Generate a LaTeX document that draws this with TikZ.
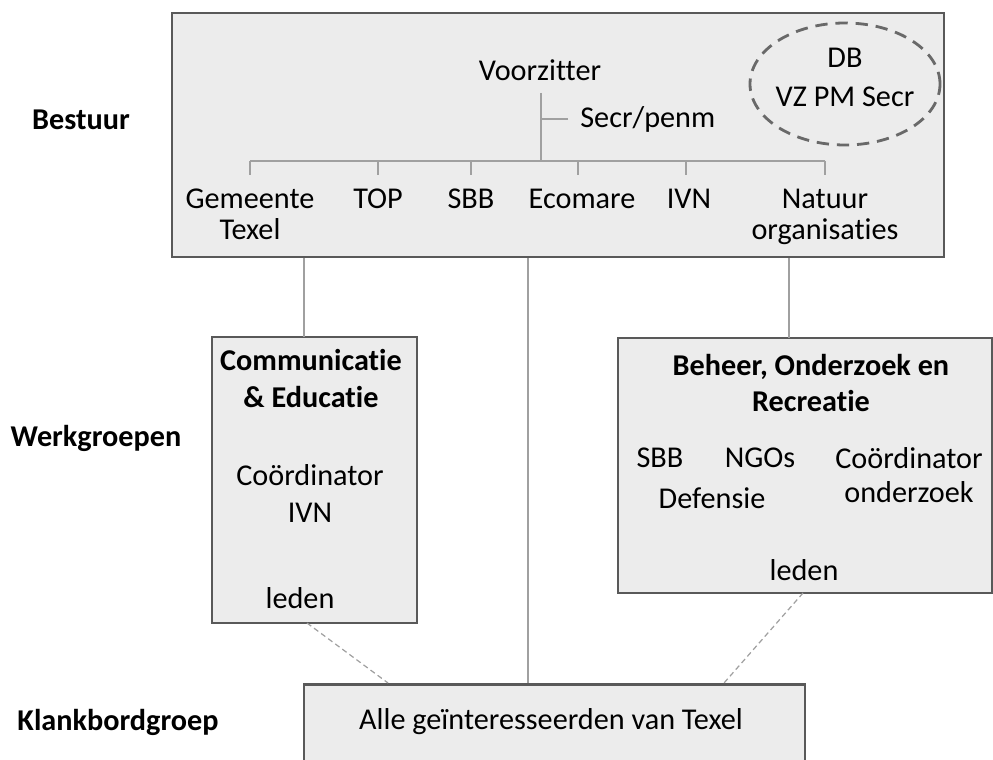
\documentclass[tikz,border=0pt]{standalone}
\usepackage{fontspec}
\setmainfont[RawFeature={-liga}]{Carlito}
\usetikzlibrary{shapes.geometric}
\definecolor{boxfill}{RGB}{236,236,236}
\definecolor{boxline}{RGB}{89,89,89}
\definecolor{linkline}{RGB}{160,160,160}
\definecolor{ovalline}{RGB}{105,105,105}
\begin{document}
\begin{tikzpicture}[
	box/.style={draw=boxline, line width=1.6pt, fill=boxfill, inner sep=0pt},
	txt/.style={font=\fontsize{17.2}{17.5}\selectfont, align=center, inner sep=0pt},
	kop/.style={font=\fontsize{17.2}{21}\selectfont\bfseries, align=center, inner sep=0pt},
	lijn/.style={draw=linkline, line width=0.8pt},
	stippel/.style={draw=linkline, line width=0.7pt, dash pattern=on 3pt off 2pt}]
	\useasboundingbox (0, 0) rectangle (19.86, 15.18);
	% bestuur
	\node[box, minimum width=15.44cm, minimum height=4.88cm] at (11.16, 12.48) (bestuur) {};
	\node[txt] at (10.8, 13.78) (vz) {Voorzitter};
	\coordinate (vzonder) at (10.82, 13.32);
	\coordinate (tak) at (10.82, 11.96);
	\draw[lijn] (vzonder) -- (tak);
	\node[txt, anchor=west] at (11.6, 12.8) (secr) {Secr/penm};
	\draw[lijn] ([xshift=-0.24cm]secr.west) -- (vzonder |- secr.west);
	\node[txt, anchor=north] at (5.0, 11.4) (gem) {Gemeente\\Texel};
	\node[txt, anchor=north] at (7.56, 11.4) (top) {TOP};
	\node[txt, anchor=north] at (9.42, 11.4) (sbb) {SBB};
	\node[txt, anchor=north] at (11.64, 11.4) (eco) {Ecomare};
	\node[txt, anchor=north] at (13.78, 11.4) (ivn) {IVN};
	\node[txt, anchor=north] at (16.5, 11.4) (nat) {Natuur\\organisaties};
	\draw[lijn] (gem |- tak) -- (nat |- tak);
	\draw[lijn] (gem |- tak) -- ([yshift=0.28cm]gem.north);
	\draw[lijn] (top |- tak) -- ([yshift=0.28cm]top.north);
	\draw[lijn] (sbb |- tak) -- ([yshift=0.28cm]sbb.north);
	\draw[lijn] ([xshift=-0.08cm]eco |- tak) -- ([xshift=-0.08cm, yshift=0.28cm]eco.north);
	\draw[lijn] ([xshift=-0.06cm]ivn |- tak) -- ([xshift=-0.06cm, yshift=0.28cm]ivn.north);
	\draw[lijn] (nat |- tak) -- ([yshift=0.28cm]nat.north);
	\node[ellipse, draw=ovalline, line width=1.6pt, dash pattern=on 7pt off 4.5pt,
		minimum width=3.8cm, minimum height=2.44cm] at (16.9, 13.5) (db) {};
	\node[txt, font=\fontsize{17.2}{22}\selectfont] at (16.9, 13.63) (dbtekst) {DB\\VZ PM Secr};
	% werkgroepen
	\node[box, minimum width=4.1cm, minimum height=5.72cm] at (6.29, 5.58) (ce) {};
	\node[kop] at (6.22, 7.61) (cekop) {Communicatie\\\& Educatie};
	\node[txt, font=\fontsize{17.2}{21}\selectfont] at (6.2, 5.31) (cecoord) {Coördinator\\IVN};
	\node[txt] at (6.0, 3.22) (celeden) {leden};
	\node[box, minimum width=7.48cm, minimum height=5.1cm] at (16.1, 5.87) (bor) {};
	\node[kop] at (16.22, 7.52) (borkop) {Beheer, Onderzoek en\\Recreatie};
	\node[txt] at (13.2, 6.02) (borsbb) {SBB};
	\node[txt] at (15.2, 6.02) (borngo) {NGOs};
	\node[txt] at (14.24, 5.22) (bordef) {Defensie};
	\node[txt, font=\fontsize{17.2}{19.5}\selectfont] at (18.18, 5.68) (borcoord) {Coördinator\\onderzoek};
	\node[txt] at (16.08, 3.78) (borleden) {leden};
	% klankbordgroep
	\node[box, minimum width=10.02cm, minimum height=2.5cm, anchor=north] at (11.09, 1.52) (klank) {};
	\node[txt] at (11.02, 0.74) (alle) {Alle geïnteresseerden van Texel};
	% labels links
	\node[kop] at (1.62, 12.78) (lbestuur) {Bestuur};
	\node[kop] at (1.92, 6.42) (lwerk) {Werkgroepen};
	\node[kop] at (2.36, 0.74) (lklank) {Klankbordgroep};
	% verbindingen
	\coordinate (ceboven) at (6.08, 8.44);
	\coordinate (midden) at (10.56, 5);
	\coordinate (borboven) at (15.78, 8.42);
	\draw[lijn] (bestuur.south -| ceboven) -- (ceboven);
	\draw[lijn] (bestuur.south -| midden) -- (klank.north -| midden);
	\draw[lijn] (bestuur.south -| borboven) -- (borboven);
	\coordinate (ceonder) at (6.14, 2.72);
	\coordinate (klanklinks) at (7.76, 1.52);
	\coordinate (boronder) at (16.06, 3.32);
	\coordinate (klankrechts) at (14.48, 1.52);
	\draw[stippel] (ceonder) -- (klanklinks);
	\draw[stippel] (boronder) -- (klankrechts);
\end{tikzpicture}
\end{document}
